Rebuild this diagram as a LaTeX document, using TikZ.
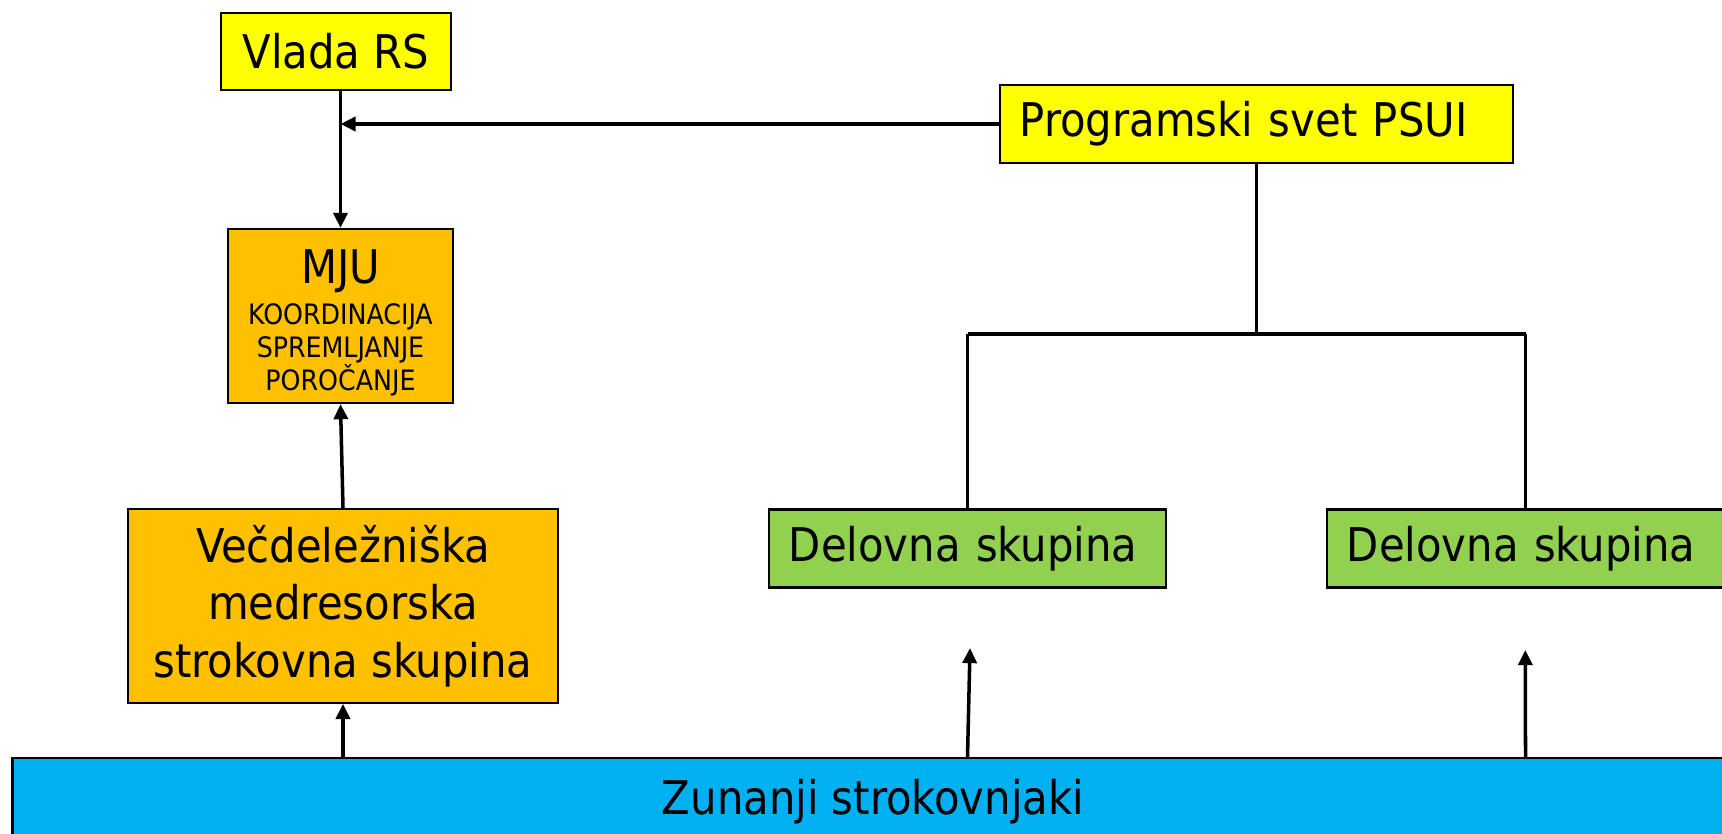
\documentclass[tikz,border=0pt]{standalone}
\usepackage{fontspec}
\setmainfont{DejaVu Sans Condensed}
\usepackage{tikz}
\usetikzlibrary{arrows.meta,positioning,calc}
\definecolor{psyellow}{RGB}{255,255,0}
\definecolor{psorange}{RGB}{255,192,0}
\definecolor{psgreen}{RGB}{146,208,80}
\definecolor{psblue}{RGB}{0,176,240}
\tikzstyle{arrowline} = [line width=1pt,-{Triangle[length=4.3pt,width=4pt]}]
\tikzstyle{treeline} = [line width=1pt]
\tikzstyle{unit} = [rectangle, draw=black, line width=0.6pt, minimum height=0.78cm, font=\fontsize{13.2}{16.4}\selectfont]

\begin{document}
\begin{tikzpicture}[x=0.01cm, y=-0.01cm]
    \useasboundingbox (0,0) rectangle (1722,833);
    \clip (0,0) rectangle (1722,833);

    % Vlada
    \node[unit, fill=psyellow, minimum width=2.3cm, minimum height=0.77cm] (vlada) at (336,51.5) {Vlada RS};

    % Programski svet
    \node[unit, fill=psyellow, text width=4.73cm, inner xsep=0.2cm, align=left] (psui) at (1256.5,124) {Programski svet PSUI};

    % MJU
    \node[unit, fill=psorange, minimum width=2.25cm, minimum height=1.74cm, inner ysep=0pt, align=center, font=\fontsize{8}{9.3}\selectfont] (mju) at (340.5,316)
        {\rule{0pt}{13.4pt}{\fontsize{13.2}{13.2}\selectfont MJU}\\[2.4pt]KOORDINACIJA\\SPREMLJANJE\\POROČANJE};

    % Strokovna skupina
    \node[unit, fill=psorange, minimum width=4.295cm, minimum height=1.935cm, align=center] (vec) at (343,606)
        {Večdeležniška\\medresorska\\strokovna skupina};

    % Delovne skupine
    \node[unit, fill=psgreen, text width=3.57cm, inner xsep=0.2cm, align=left] (del1) at (967.5,548.5) {Delovna skupina};
    \node[unit, fill=psgreen, text width=3.57cm, inner xsep=0.2cm, align=left] (del2) at (1525.5,548.5) {Delovna skupina};

    % Zunanji strokovnjaki
    \node[unit, fill=psblue, minimum width=17.2cm, minimum height=0.88cm] (zun) at (873,802) {Zunanji strokovnjaki};

    % Arrows
    \draw[arrowline] (vlada.south -| mju.north) -- (mju.north);
    \draw[arrowline, line width=1.4pt] (psui.west) -- (psui.west -| mju.north);
    \draw[arrowline] (vec.north) -- (mju.south);
    \draw[arrowline] (zun.north -| vec.south) -- (vec.south);

    % Tree
    \coordinate (fork) at (1256.5,334);
    \draw[treeline] (psui.south) -- (fork);
    \draw[treeline, line width=1.4pt] (del1.north |- fork) -- (del2.north |- fork);
    \draw[treeline] (del1.north |- fork) -- (del1.north);
    \draw[treeline] (del2.north |- fork) -- (del2.north);

    % Open arrows
    \coordinate (tip1) at (970,648);
    \coordinate (tip2) at (1525.3,650);
    \draw[arrowline] (zun.north -| del1.south) -- (tip1);
    \draw[arrowline] (zun.north -| del2.south) -- (tip2);
\end{tikzpicture}
\end{document}
